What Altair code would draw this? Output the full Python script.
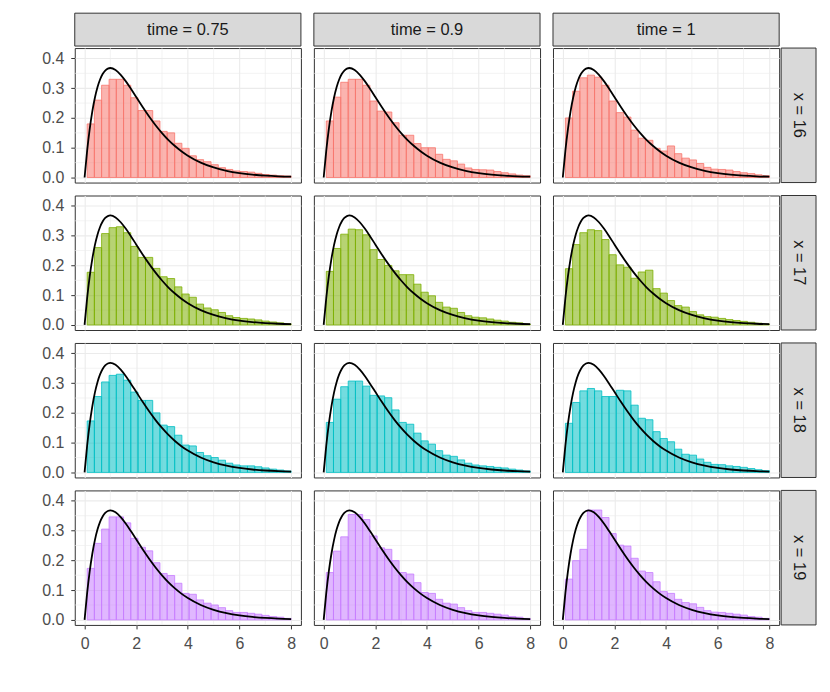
import altair as alt
import pandas as pd

# ---------------- data ----------------
x_levels = ["16", "17", "18", "19"]
time_levels = ["0.75", "0.9", "1"]
fill_colors = ["#F8766D", "#7CAE00", "#00BFC4", "#C77CFF"]

bin_edges = [0.10, 0.38, 0.66, 0.95, 1.23, 1.51, 1.79, 2.07, 2.36, 2.64,
             2.92, 3.20, 3.49, 3.77, 4.05, 4.33, 4.61, 4.90, 5.18, 5.46,
             5.74, 6.02, 6.31, 6.59, 6.87, 7.15, 7.44, 7.72, 8.00]

h16_075 = [0.180, 0.260, 0.310, 0.330, 0.330, 0.310, 0.268, 0.225, 0.225, 0.190,
           0.155, 0.150, 0.115, 0.098, 0.073, 0.060, 0.053, 0.043, 0.033, 0.027,
           0.022, 0.020, 0.018, 0.014, 0.010, 0.008, 0.006, 0.005]
h16_090 = [0.190, 0.270, 0.320, 0.330, 0.330, 0.310, 0.257, 0.223, 0.220, 0.184,
           0.142, 0.142, 0.114, 0.100, 0.100, 0.078, 0.061, 0.056, 0.045, 0.032,
           0.027, 0.026, 0.025, 0.020, 0.016, 0.012, 0.008, 0.006]
h16_100 = [0.200, 0.290, 0.335, 0.344, 0.337, 0.310, 0.257, 0.218, 0.203, 0.159,
           0.132, 0.125, 0.098, 0.089, 0.106, 0.080, 0.065, 0.059, 0.047, 0.034,
           0.028, 0.027, 0.025, 0.020, 0.016, 0.013, 0.009, 0.006]
h17_075 = [0.177, 0.260, 0.307, 0.327, 0.330, 0.310, 0.264, 0.227, 0.227, 0.190,
           0.162, 0.156, 0.128, 0.104, 0.093, 0.070, 0.057, 0.051, 0.042, 0.031,
           0.025, 0.022, 0.020, 0.017, 0.013, 0.010, 0.007, 0.004]
h17_090 = [0.180, 0.257, 0.305, 0.322, 0.320, 0.303, 0.253, 0.220, 0.200, 0.182,
           0.169, 0.169, 0.137, 0.110, 0.098, 0.076, 0.060, 0.056, 0.042, 0.031,
           0.026, 0.024, 0.020, 0.016, 0.013, 0.009, 0.007, 0.003]
h17_100 = [0.189, 0.270, 0.310, 0.320, 0.317, 0.287, 0.236, 0.202, 0.194, 0.157,
           0.178, 0.184, 0.122, 0.107, 0.082, 0.065, 0.060, 0.045, 0.034, 0.028,
           0.026, 0.022, 0.018, 0.015, 0.012, 0.009, 0.006, 0.003]
h18_075 = [0.173, 0.255, 0.304, 0.326, 0.330, 0.310, 0.270, 0.242, 0.242, 0.200,
           0.159, 0.154, 0.125, 0.092, 0.089, 0.067, 0.056, 0.050, 0.041, 0.031,
           0.025, 0.022, 0.022, 0.019, 0.015, 0.011, 0.008, 0.005]
h18_090 = [0.168, 0.246, 0.288, 0.307, 0.307, 0.290, 0.259, 0.257, 0.251, 0.210,
           0.168, 0.162, 0.132, 0.106, 0.095, 0.073, 0.058, 0.054, 0.042, 0.031,
           0.025, 0.022, 0.020, 0.017, 0.015, 0.011, 0.008, 0.005]
h18_100 = [0.165, 0.235, 0.274, 0.282, 0.274, 0.255, 0.255, 0.276, 0.274, 0.226,
           0.182, 0.177, 0.137, 0.114, 0.103, 0.078, 0.061, 0.058, 0.045, 0.034,
           0.027, 0.026, 0.022, 0.020, 0.017, 0.013, 0.009, 0.006]
h19_075 = [0.173, 0.257, 0.305, 0.346, 0.346, 0.326, 0.274, 0.244, 0.232, 0.192,
           0.156, 0.149, 0.123, 0.089, 0.086, 0.067, 0.056, 0.050, 0.041, 0.031,
           0.025, 0.025, 0.022, 0.019, 0.015, 0.011, 0.009, 0.005]
h19_090 = [0.159, 0.231, 0.279, 0.354, 0.354, 0.337, 0.282, 0.242, 0.237, 0.199,
           0.159, 0.154, 0.125, 0.092, 0.089, 0.069, 0.056, 0.053, 0.041, 0.031,
           0.025, 0.025, 0.022, 0.019, 0.016, 0.011, 0.009, 0.005]
h19_100 = [0.137, 0.199, 0.237, 0.369, 0.369, 0.344, 0.290, 0.251, 0.248, 0.207,
           0.164, 0.159, 0.128, 0.095, 0.089, 0.069, 0.058, 0.054, 0.042, 0.031,
           0.026, 0.025, 0.022, 0.019, 0.016, 0.011, 0.009, 0.005]

heights = {
    ("16", "0.75"): h16_075, ("16", "0.9"): h16_090, ("16", "1"): h16_100,
    ("17", "0.75"): h17_075, ("17", "0.9"): h17_090, ("17", "1"): h17_100,
    ("18", "0.75"): h18_075, ("18", "0.9"): h18_090, ("18", "1"): h18_100,
    ("19", "0.75"): h19_075, ("19", "0.9"): h19_090, ("19", "1"): h19_100,
}

# reference density curve
curve_x = [0, 0.1, 0.2, 0.3, 0.4, 0.5, 0.6, 0.7, 0.8, 0.9, 1.0, 1.2, 1.4, 1.6,
           1.8, 2.0, 2.25, 2.5, 2.75, 3.0, 3.25, 3.5, 3.75, 4.0, 4.5, 5.0,
           5.5, 6.0, 6.5, 7.0, 7.5, 8.0]
curve_y = [0.0, 0.0905, 0.1637, 0.2222, 0.2681, 0.3033, 0.3293, 0.3476, 0.3595,
           0.3659, 0.3679, 0.3614, 0.3452, 0.3230, 0.2975, 0.2707, 0.2371,
           0.2052, 0.1758, 0.1494, 0.1258, 0.1057, 0.0882, 0.0733, 0.0500,
           0.0337, 0.0225, 0.0149, 0.0098, 0.0064, 0.0041, 0.0027]

x_major = [0, 2, 4, 6, 8]
x_minor = [1, 3, 5, 7]
y_major = [0.0, 0.1, 0.2, 0.3, 0.4]
y_minor = [0.05, 0.15, 0.25, 0.35]

# ---------------- style ----------------
FONT = "Liberation Sans"
FS_AXIS = 16
FS_STRIP = 16.5
PW, PH = 227, 135
GRID = "#EBEBEB"
STRIP_FILL = "#D9D9D9"
BORDER = "#333333"

curve_df = pd.DataFrame({"cx": curve_x, "cy": curve_y})
xscale = alt.Scale(domain=[-0.38, 8.38], nice=False, zero=False)
yscale = alt.Scale(domain=[-0.017, 0.435], nice=False, zero=False)


def panel(vals, color, show_x, show_y):
    xaxis = alt.Axis(values=x_major, grid=True, labels=show_x, ticks=show_x,
                     domain=False, title=None, format="d")
    yaxis = alt.Axis(values=y_major, grid=True, labels=show_y, ticks=show_y,
                     domain=False, title=None, format=".1f")
    bars_df = pd.DataFrame({"start": bin_edges[:-1], "end": bin_edges[1:],
                            "density": vals})
    vminor = alt.Chart(pd.DataFrame({"v": x_minor})).mark_rule(
        color=GRID, strokeWidth=0.6).encode(
        x=alt.X("v:Q", scale=xscale, axis=xaxis))
    hminor = alt.Chart(pd.DataFrame({"w": y_minor})).mark_rule(
        color=GRID, strokeWidth=0.6).encode(
        y=alt.Y("w:Q", scale=yscale, axis=yaxis))
    bars = alt.Chart(bars_df).mark_rect(
        fill=color, fillOpacity=0.55, stroke=color, strokeOpacity=0.8,
        strokeWidth=1).encode(
        x=alt.X("start:Q", scale=xscale, axis=xaxis),
        x2="end:Q",
        y=alt.Y("density:Q", scale=yscale, axis=yaxis),
        y2=alt.datum(0),
    )
    line = alt.Chart(curve_df).mark_line(
        color="black", strokeWidth=1.8, interpolate="monotone").encode(
        x=alt.X("cx:Q", scale=xscale, axis=xaxis),
        y=alt.Y("cy:Q", scale=yscale, axis=yaxis),
    )
    return alt.layer(vminor, hminor, bars, line).properties(width=PW, height=PH)


def top_strip(label):
    df = pd.DataFrame({"label": [label]})
    rect = alt.Chart(df).mark_rect(fill=STRIP_FILL, stroke=BORDER, strokeWidth=1).encode(
        x=alt.value(0), x2=alt.value(PW), y=alt.value(0), y2=alt.value(33))
    txt = alt.Chart(df).mark_text(font=FONT, fontSize=FS_STRIP, color="#1A1A1A",
                                  baseline="middle", align="center").encode(
        x=alt.value(PW / 2), y=alt.value(17), text="label:N")
    return alt.layer(rect, txt).properties(
        width=PW, height=22, view=alt.ViewBackground(strokeOpacity=0))


def right_strip(label):
    df = pd.DataFrame({"label": [label]})
    rect = alt.Chart(df).mark_rect(fill=STRIP_FILL, stroke=BORDER, strokeWidth=1).encode(
        x=alt.value(-11), x2=alt.value(24), y=alt.value(0), y2=alt.value(PH))
    txt = alt.Chart(df).mark_text(font=FONT, fontSize=FS_STRIP, color="#1A1A1A",
                                  baseline="middle", align="center", angle=90).encode(
        x=alt.value(6.5), y=alt.value(PH / 2), text="label:N")
    return alt.layer(rect, txt).properties(
        width=24, height=PH, view=alt.ViewBackground(strokeOpacity=0))


def blank():
    df = pd.DataFrame({"label": [""]})
    return alt.Chart(df).mark_rect(opacity=0).encode(
        x=alt.value(0), x2=alt.value(24), y=alt.value(0), y2=alt.value(22)).properties(
        width=24, height=22, view=alt.ViewBackground(strokeOpacity=0))


cells = [top_strip(f"time = {t}") for t in time_levels] + [blank()]
for r, xv in enumerate(x_levels):
    for c, tv in enumerate(time_levels):
        cells.append(panel(heights[(xv, tv)], fill_colors[r],
                           show_x=(r == len(x_levels) - 1), show_y=(c == 0)))
    cells.append(right_strip(f"x = {xv}"))

chart = alt.concat(*cells, columns=4, spacing={"row": 13, "column": 13},
                   bounds="flush", align="each").properties(
    padding={"left": 33, "top": 3, "right": 5, "bottom": 5}
).configure_view(
    stroke=BORDER, strokeWidth=1
).configure_axis(
    gridColor=GRID, gridWidth=1.1, labelFont=FONT, labelFontSize=FS_AXIS,
    labelColor="#4D4D4D", tickColor=BORDER, tickSize=4, tickWidth=1,
    labelPadding=7
).configure_axisY(labelPadding=7)

chart.save("out.html", embed_options={"renderer": "svg", "actions": False})
